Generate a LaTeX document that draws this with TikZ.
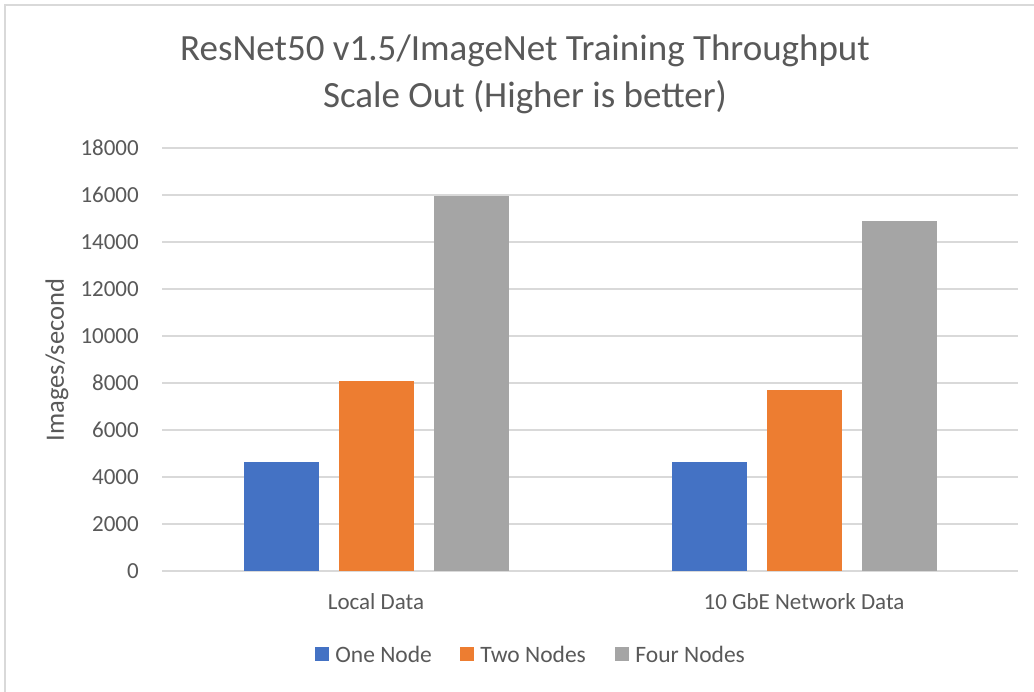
\documentclass[tikz,border=0pt]{standalone}
\usepackage{fontspec}
\setmainfont{Carlito}
\usetikzlibrary{positioning}
\definecolor{oneblue}{HTML}{4472C4}
\definecolor{twoorange}{HTML}{ED7D31}
\definecolor{fourgray}{HTML}{A5A5A5}
\definecolor{gridgray}{HTML}{D9D9D9}
\definecolor{textgray}{HTML}{595959}

\begin{document}
\begin{tikzpicture}[
  x=1pt, y=-1pt,
  gridline/.style={gridgray, line width=1.4pt},
  tick/.style={anchor=east, inner sep=0pt, text=textgray, font=\fontsize{23}{28}\selectfont},
  catlabel/.style={inner sep=0pt, text=textgray, font=\fontsize{23}{28}\selectfont},
  title/.style={anchor=base, inner sep=0pt, text=textgray, font=\fontsize{37}{44}\selectfont},
  swatch/.style={rectangle, minimum size=14pt, inner sep=0pt},
  legtext/.style={inner sep=0pt, text=textgray, font=\fontsize{23.5}{28}\selectfont}
]
  \useasboundingbox (0,0) rectangle (1034,692);
  \clip (0,0) rectangle (1034,692);
  \fill[white] (0,0) rectangle (1034,692);
  \draw[gridgray, line width=1.6pt] (5,5) rectangle (1070,720);

  % title
  \node[title] (title1) at (525,61) {ResNet50 v1.5/ImageNet Training Throughput};
  \node[title] (title2) at (525,108) {Scale Out (Higher is better)};

  % value axis and grid (47pt per 2000)
  \foreach \lab [count=\k from 0] in {0,2000,4000,6000,8000,10000,12000,14000,16000,18000} {
    \draw[gridline] (162,{571-\k*47}) -- (1018,{571-\k*47});
    \node[tick] (tick\k) at (139,{571-\k*47}) {\lab};
  }
  \node[rotate=90, inner sep=0pt, text=textgray, font=\fontsize{26.5}{30}\selectfont] (ylab) at (57,360) {Images/second};

  % bars, values in thousands
  \foreach \cx/\one/\two/\four in {376/4.638/8.072/15.957, 804/4.626/7.689/14.894} {
    \fill[oneblue] ({\cx-132.5},571) rectangle ({\cx-57.5},{571-\one*23.5});
    \fill[twoorange] ({\cx-37.5},571) rectangle ({\cx+37.5},{571-\two*23.5});
    \fill[fourgray] ({\cx+57.5},571) rectangle ({\cx+132.5},{571-\four*23.5});
  }

  % categories
  \node[catlabel] (loc) at (376,602) {Local Data};
  \node[catlabel] (net) at (804,602) {10 GbE Network Data};

  % legend
  \node[swatch, fill=oneblue] (sw1) at (322,654) {};
  \node[legtext, right=6pt of sw1] (leg1) {One Node};
  \node[swatch, fill=twoorange] (sw2) at (467,654) {};
  \node[legtext, right=6pt of sw2] (leg2) {Two Nodes};
  \node[swatch, fill=fourgray] (sw3) at (622,654) {};
  \node[legtext, right=6pt of sw3] (leg3) {Four Nodes};
\end{tikzpicture}
\end{document}
